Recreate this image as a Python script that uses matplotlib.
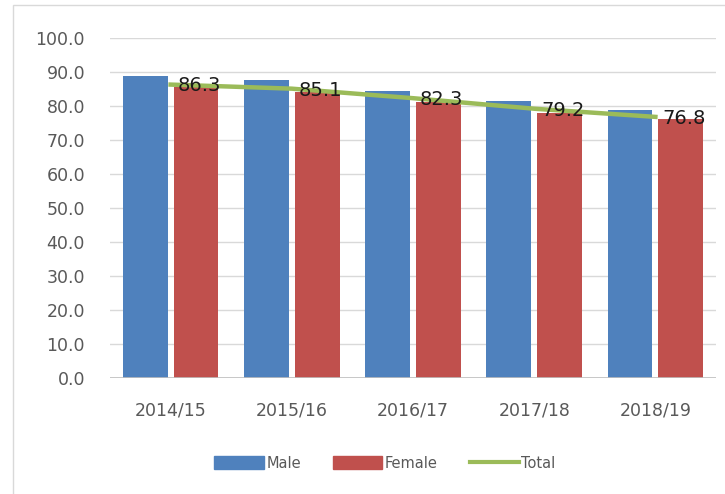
import numpy as np
from matplotlib import pyplot as plt
from matplotlib.patches import Rectangle
from matplotlib.lines import Line2D

years = ["2014/15", "2015/16", "2016/17", "2017/18", "2018/19"]
male = [88.7, 87.6, 84.3, 81.6, 78.7]
female = [85.5, 84.0, 81.2, 77.9, 76.3]
total = [86.3, 85.1, 82.3, 79.2, 76.8]

BLUE, RED, GREEN = "#4f81bd", "#c0504d", "#9bbb59"
TICK = "#595959"

fig = plt.figure(figsize=(7.25, 4.94), dpi=100)
fig.patches.append(Rectangle((13 / 725, -0.1), 1.2, 1.1 - 5 / 494,
                             transform=fig.transFigure, fill=False,
                             edgecolor="#d9d9d9", linewidth=1))
ax = fig.add_axes([110 / 725, 1 - 378 / 494, 606 / 725, 340 / 494])

x = np.arange(len(years))
w = 0.37
ax.bar(x - 0.21, male, w, color=BLUE, zorder=2, label="Male")
ax.bar(x + 0.21, female, w, color=RED, zorder=2, label="Female")
ax.plot(x, total, color=GREEN, linewidth=3.2, zorder=3, label="Total")
for xi, v in zip(x, total):
    ax.annotate(f"{v:.1f}", (xi, v), xytext=(5, -1), textcoords="offset points",
                ha="left", va="center", fontsize=14, color="#1a1a1a", zorder=4)

ax.set_xlim(-0.5, len(years) - 0.5)
ax.set_ylim(0, 100)
ax.set_yticks(np.arange(0, 101, 10))
ax.set_yticklabels([f"{t:.1f}" for t in np.arange(0, 101, 10)])
ax.set_xticks(x)
ax.set_xticklabels(years)
ax.yaxis.grid(True, color="#d9d9d9", linewidth=1, zorder=0)
ax.axhline(0, color="#bfbfbf", linewidth=1.2, zorder=3)
for s in ax.spines.values():
    s.set_visible(False)
ax.tick_params(axis="y", length=0, pad=18, labelsize=12.5, labelcolor=TICK)
ax.tick_params(axis="x", length=0, pad=17, labelsize=12.5, labelcolor=TICK)

handles = [Rectangle((0, 0), 1, 1, color=BLUE), Rectangle((0, 0), 1, 1, color=RED),
           Line2D([], [], color=GREEN, linewidth=3)]
fig.legend(handles, ["Male", "Female", "Total"], loc="center",
           bbox_to_anchor=(385 / 725, 1 - 463 / 494), ncol=3, frameon=False,
           fontsize=10.5, handlelength=3.4, handleheight=1.0, handletextpad=0.15,
           columnspacing=2.2, labelcolor=TICK)

fig.savefig("out.png", facecolor="white")
